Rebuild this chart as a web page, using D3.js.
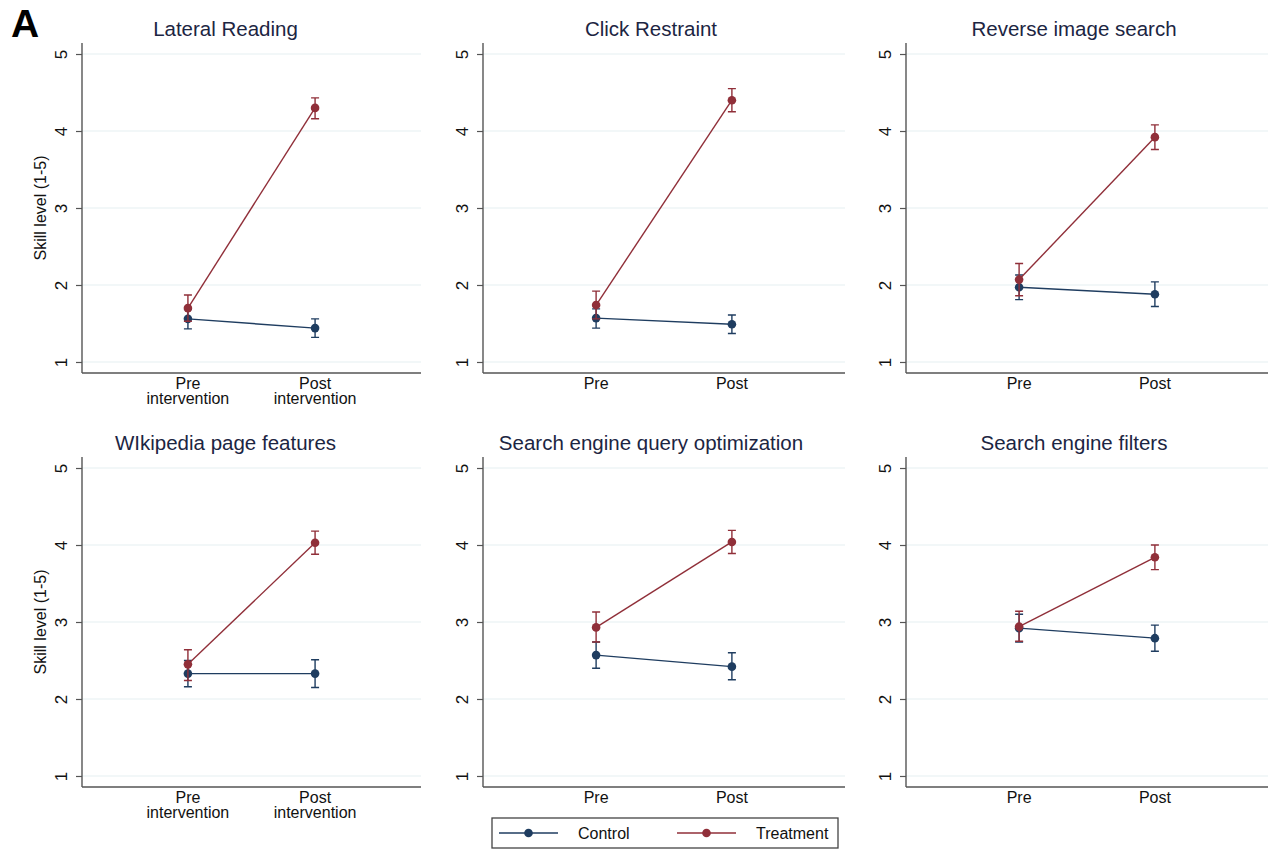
<!DOCTYPE html>
<html>
<head>
<meta charset="utf-8">
<script src="https://cdn.jsdelivr.net/npm/d3@7"></script>
<style>
  body { margin: 0; background: #fff; }
  text { font-family: "Liberation Sans", Arial, sans-serif; }
</style>
</head>
<body>
<div id="chart"></div>
<script>
var width = 1274,
    height = 850;

// data
var titles = ["Lateral Reading", "Click Restraint", "Reverse image search",
    "WIkipedia page features", "Search engine query optimization", "Search engine filters"];
var periods = ["Pre", "Post"];
var controlMean = [[1.56, 1.44], [1.57, 1.49], [1.97, 1.88], [2.33, 2.33], [2.57, 2.42], [2.92, 2.79]];
var controlLo   = [[1.43, 1.32], [1.44, 1.37], [1.81, 1.72], [2.16, 2.15], [2.40, 2.25], [2.74, 2.62]];
var controlHi   = [[1.68, 1.56], [1.69, 1.61], [2.13, 2.04], [2.50, 2.51], [2.74, 2.60], [3.10, 2.96]];
var treatMean   = [[1.70, 4.30], [1.74, 4.40], [2.07, 3.92], [2.45, 4.03], [2.93, 4.04], [2.94, 3.84]];
var treatLo     = [[1.53, 4.16], [1.56, 4.25], [1.86, 3.76], [2.24, 3.88], [2.74, 3.89], [2.75, 3.68]];
var treatHi     = [[1.87, 4.43], [1.92, 4.55], [2.28, 4.08], [2.64, 4.18], [3.13, 4.19], [3.14, 4.00]];
var yTicks = [1, 2, 3, 4, 5];
var groups = ["Control", "Treatment"];
var longLabels = { Pre: ["Pre", "intervention"], Post: ["Post", "intervention"] };

var colors = { Control: "#1f3d60", Treatment: "#902f39" };

// panel layout
var colLeft = [82, 483, 906],
    colRight = [421, 845, 1268],
    rowTop = [43, 457],
    plotH = 330;

var svg = d3.select("#chart")
    .append("svg")
    .attr("width", width)
    .attr("height", height);

svg.append("text")
    .attr("x", 11)
    .attr("y", 37)
    .style("font-size", "39px")
    .style("font-weight", "bold")
    .text("A");

titles.forEach(function (title, i) {
    var col = i % 3, row = Math.floor(i / 3);
    var left = colLeft[col], right = colRight[col], top = rowTop[row];

    var g = svg.append("g")
        .attr("transform", "translate(" + left + "," + top + ")");
    var w = right - left;

    var x = d3.scalePoint()
        .domain(periods)
        .range([0, w])
        .padding(0.833);

    var y = d3.scaleLinear()
        .domain([0.857, 5.143])
        .range([plotH, 0]);

    // grid
    g.selectAll(".grid")
        .data(yTicks)
        .enter()
        .append("line")
        .attr("x1", 0)
        .attr("x2", w)
        .attr("y1", function (d) { return y(d) })
        .attr("y2", function (d) { return y(d) })
        .style("stroke", "#e6eff1")
        .style("stroke-width", 1.2);

    // y axis, labels turned like the original
    var yAxis = g.append("g")
        .attr("font-size", 17)
        .call(d3.axisLeft(y).tickValues(yTicks).tickSize(6).tickFormat(d3.format("d")));
    yAxis.attr("font-size", 17).attr("font-family", null);
    yAxis.select(".domain").remove();
    yAxis.selectAll(".tick line").style("stroke", "#555").style("stroke-width", 1.2);
    yAxis.selectAll(".tick text")
        .attr("x", 0)
        .attr("y", -21)
        .attr("dy", 0)
        .attr("transform", "rotate(-90)")
        .attr("text-anchor", "middle")
        .attr("dominant-baseline", "central")
        .style("font-size", "17px")
        .style("fill", "#111");

    g.append("line")
        .attr("x1", 0).attr("x2", 0)
        .attr("y1", 0).attr("y2", plotH)
        .style("stroke", "#555").style("stroke-width", 1.4);
    g.append("line")
        .attr("x1", 0).attr("x2", w)
        .attr("y1", plotH).attr("y2", plotH)
        .style("stroke", "#555").style("stroke-width", 1.4);

    // x labels
    periods.forEach(function (p) {
        var lines = col === 0 ? longLabels[p] : [p];
        var t = g.append("text")
            .attr("x", x(p))
            .attr("y", plotH + 16)
            .attr("text-anchor", "middle")
            .style("font-size", "16px")
            .style("fill", "#111");
        lines.forEach(function (l, k) {
            t.append("tspan")
                .attr("x", x(p))
                .attr("dy", k === 0 ? 0 : 14.5)
                .text(l);
        });
    });

    // title
    var titleLeft = col === 0 ? left - 52 : left - 26;
    g.append("text")
        .attr("x", (titleLeft + right) / 2 - left)
        .attr("y", -7)
        .attr("text-anchor", "middle")
        .style("font-size", "20.5px")
        .style("fill", "#1c2542")
        .text(title);

    if (col === 0) {
        g.append("text")
            .attr("transform", "translate(-42," + (y(3)) + ") rotate(-90)")
            .attr("text-anchor", "middle")
            .attr("dominant-baseline", "central")
            .style("font-size", "16px")
            .style("fill", "#111")
            .text("Skill level (1-5)");
    }

    var series = [
        { name: "Control", mean: controlMean[i], lo: controlLo[i], hi: controlHi[i] },
        { name: "Treatment", mean: treatMean[i], lo: treatLo[i], hi: treatHi[i] }
    ];

    series.forEach(function (s) {
        var c = colors[s.name];
        var pts = periods.map(function (p, k) {
            return { p: p, m: s.mean[k], lo: s.lo[k], hi: s.hi[k] };
        });
        var sg = g.append("g");

        sg.selectAll(".ci")
            .data(pts)
            .enter()
            .append("path")
            .attr("d", function (d) {
                var cx = x(d.p), cap = 4;
                return "M" + (cx - cap) + "," + y(d.hi) + "H" + (cx + cap)
                    + "M" + cx + "," + y(d.hi) + "V" + y(d.lo)
                    + "M" + (cx - cap) + "," + y(d.lo) + "H" + (cx + cap);
            })
            .style("fill", "none")
            .style("stroke", c)
            .style("stroke-width", 1.4);

        sg.append("path")
            .datum(pts)
            .attr("d", d3.line()
                .x(function (d) { return x(d.p) })
                .y(function (d) { return y(d.m) }))
            .style("fill", "none")
            .style("stroke", c)
            .style("stroke-width", 1.4);

        sg.selectAll(".pt")
            .data(pts)
            .enter()
            .append("circle")
            .attr("cx", function (d) { return x(d.p) })
            .attr("cy", function (d) { return y(d.m) })
            .attr("r", 4.3)
            .style("fill", c);
    });
});

// legend
var legend = svg.append("g").attr("transform", "translate(492,818)");
legend.append("rect")
    .attr("x", 0).attr("y", 0)
    .attr("width", 346).attr("height", 30)
    .style("fill", "#fff")
    .style("stroke", "#444")
    .style("stroke-width", 1.3);

var legendX = d3.scaleOrdinal().domain(groups).range([7, 185]);
groups.forEach(function (gname) {
    var lx = legendX(gname);
    legend.append("line")
        .attr("x1", lx).attr("x2", lx + 59)
        .attr("y1", 15).attr("y2", 15)
        .style("stroke", colors[gname])
        .style("stroke-width", 1.4);
    legend.append("circle")
        .attr("cx", lx + 29.5).attr("cy", 15)
        .attr("r", 4.3)
        .style("fill", colors[gname]);
    legend.append("text")
        .attr("x", lx + 79)
        .attr("y", 15)
        .attr("dominant-baseline", "central")
        .style("font-size", "16px")
        .style("fill", "#111")
        .text(gname);
});
</script>
</body>
</html>
